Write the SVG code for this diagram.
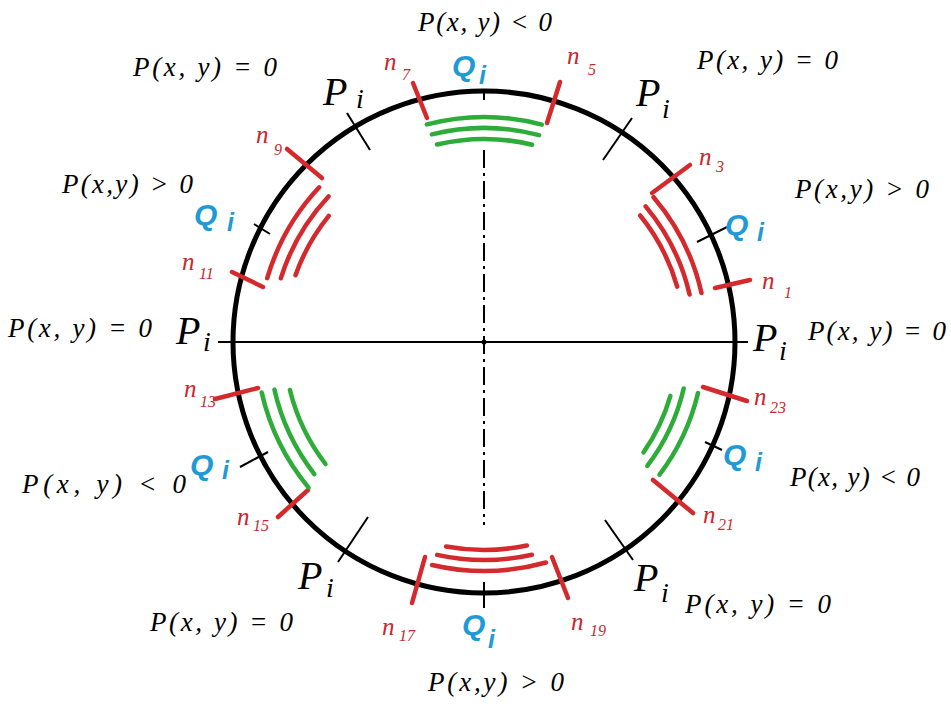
<svg xmlns="http://www.w3.org/2000/svg" width="951" height="704" viewBox="0 0 951 704">
<style>
.bk{stroke:#000;fill:none;stroke-linecap:round}
.rd{stroke:#d42a2e;fill:none;stroke-width:4.5;stroke-linecap:round}
.gr{stroke:#2eac3a;fill:none;stroke-width:4.5;stroke-linecap:round}
.tk{stroke:#000;stroke-width:2;fill:none}
.eq{font-family:"Liberation Serif",serif;font-style:italic;font-size:27px;fill:#000}
.pp{font-family:"Liberation Serif",serif;font-style:italic;font-size:40px;fill:#000}
.pi{font-family:"Liberation Serif",serif;font-style:italic;font-size:28px;fill:#000}
.qq{font-family:"Liberation Sans",sans-serif;font-style:italic;font-weight:bold;font-size:30px;fill:#1e9ad6}
.qi{font-family:"Liberation Sans",sans-serif;font-style:italic;font-weight:bold;font-size:25px;fill:#1e9ad6}
.nn{font-family:"Liberation Serif",serif;font-style:italic;font-size:25px;fill:#c8282e}
.ns{font-family:"Liberation Serif",serif;font-style:italic;font-size:16px;fill:#c8282e}
</style>
<rect width="951" height="704" fill="#fff"/>
<g id="circle">
<circle cx="484" cy="342" r="251" class="bk" stroke-width="5"/>
</g>
<g id="connectors">
<line x1="218" y1="342" x2="748" y2="342" class="tk"/>
<line x1="484" y1="150" x2="484" y2="525" class="tk" stroke-dasharray="18 5 3 5"/>
<circle cx="484" cy="342" r="2.5" fill="#000"/>
<line x1="347" y1="113" x2="370" y2="150" class="tk"/>
<line x1="632" y1="118" x2="603" y2="160" class="tk"/>
<line x1="368" y1="517" x2="338" y2="562" class="tk"/>
<line x1="605" y1="520" x2="633" y2="560" class="tk"/>
<line x1="697" y1="242" x2="727" y2="227" class="tk"/>
<line x1="254" y1="224" x2="270" y2="234" class="tk"/>
<line x1="705" y1="442" x2="722" y2="450" class="tk"/>
<line x1="240" y1="467" x2="268" y2="452" class="tk"/>
<line x1="484" y1="582" x2="484" y2="608" class="tk"/>
<line x1="484" y1="92" x2="484" y2="100" class="tk"/>
</g>
<g id="n-marks">
<line x1="413" y1="83" x2="427" y2="118" class="rd"/>
<line x1="560" y1="82" x2="547" y2="123" class="rd"/>
<line x1="690" y1="165" x2="652" y2="193" class="rd"/>
<line x1="715" y1="288" x2="750" y2="280" class="rd"/>
<line x1="703" y1="387" x2="747" y2="401" class="rd"/>
<line x1="653" y1="480" x2="693" y2="513" class="rd"/>
<line x1="552" y1="557" x2="568" y2="598" class="rd"/>
<line x1="425" y1="557" x2="412" y2="603" class="rd"/>
<line x1="308" y1="490" x2="278" y2="517" class="rd"/>
<line x1="215" y1="399" x2="258" y2="388" class="rd"/>
<line x1="232" y1="272" x2="263" y2="287" class="rd"/>
<line x1="287" y1="149" x2="322" y2="178" class="rd"/>
</g>
<g id="arcs-top">
<path d="M426.9,124.4 A225,225 0 0 1 541.8,124.6" class="gr"/>
<path d="M431.9,134.4 A214,214 0 0 1 539.0,135.2" class="gr"/>
<path d="M437.0,144.5 A203,203 0 0 1 532.1,144.8" class="gr"/>
</g>
<g id="arcs-right-upper">
<path d="M653.6,197.2 A223,223 0 0 1 701.5,293.0" class="rd"/>
<path d="M645.6,206.4 A211,211 0 0 1 689.6,294.5" class="rd"/>
<path d="M640.2,215.5 A201,201 0 0 1 677.2,286.6" class="rd"/>
</g>
<g id="arcs-left-upper">
<path d="M267.2,278.2 A226,226 0 0 1 319.2,187.3" class="rd"/>
<path d="M280.8,278.3 A213,213 0 0 1 328.5,196.5" class="rd"/>
<path d="M295.5,275.2 A200,200 0 0 1 328.8,215.9" class="rd"/>
</g>
<g id="arcs-left-lower">
<path d="M308.6,487.6 A228,228 0 0 1 261.7,392.5" class="gr"/>
<path d="M314.3,474.1 A215,215 0 0 1 274.4,389.6" class="gr"/>
<path d="M325.5,464.0 A200,200 0 0 1 289.9,390.0" class="gr"/>
</g>
<g id="arcs-right-lower">
<path d="M698.0,393.0 A220,220 0 0 1 659.5,474.7" class="gr"/>
<path d="M683.7,388.5 A205,205 0 0 1 647.3,465.9" class="gr"/>
<path d="M670.4,395.8 A194,194 0 0 1 643.5,452.4" class="gr"/>
</g>
<g id="arcs-bottom">
<path d="M546.0,562.5 A229,229 0 0 1 432.1,565.0" class="rd"/>
<path d="M531.9,554.7 A218,218 0 0 1 437.2,554.9" class="rd"/>
<path d="M526.9,545.5 A208,208 0 0 1 446.1,546.5" class="rd"/>
</g>
<g id="eq-labels">
<text x="418" y="31" class="eq" textLength="134" lengthAdjust="spacing">P(x, y) &lt; 0</text>
<text x="133" y="76" class="eq" textLength="144" lengthAdjust="spacing">P(x, y) = 0</text>
<text x="697" y="69" class="eq" textLength="141" lengthAdjust="spacing">P(x, y) = 0</text>
<text x="62" y="193" class="eq" textLength="131" lengthAdjust="spacing">P(x,y) &gt; 0</text>
<text x="795" y="198" class="eq" textLength="134" lengthAdjust="spacing">P(x,y) &gt; 0</text>
<text x="8" y="337" class="eq" textLength="144" lengthAdjust="spacing">P(x, y) = 0</text>
<text x="808" y="340" class="eq" textLength="138" lengthAdjust="spacing">P(x, y) = 0</text>
<text x="22" y="493" class="eq" textLength="164" lengthAdjust="spacing">P(x, y) &lt; 0</text>
<text x="790" y="486" class="eq" textLength="130" lengthAdjust="spacing">P(x, y) &lt; 0</text>
<text x="150" y="631" class="eq" textLength="143" lengthAdjust="spacing">P(x, y) = 0</text>
<text x="685" y="613" class="eq" textLength="146" lengthAdjust="spacing">P(x, y) = 0</text>
<text x="428" y="691" class="eq" textLength="136" lengthAdjust="spacing">P(x,y) &gt; 0</text>
</g>
<g id="p-labels">
<text x="323" y="105" class="pp">P</text><text x="356" y="108" class="pi">i</text>
<text x="636" y="106" class="pp">P</text><text x="662" y="118" class="pi">i</text>
<text x="176" y="344" class="pp">P</text><text x="203" y="351" class="pi">i</text>
<text x="753" y="351" class="pp">P</text><text x="779" y="360" class="pi">i</text>
<text x="298" y="589" class="pp">P</text><text x="326" y="597" class="pi">i</text>
<text x="634" y="591" class="pp">P</text><text x="661" y="602" class="pi">i</text>
</g>
<g id="q-labels">
<text x="452" y="76" class="qq">Q</text><text x="479" y="84" class="qi">i</text>
<text x="725" y="235" class="qq">Q</text><text x="757" y="241" class="qi">i</text>
<text x="194" y="225" class="qq">Q</text><text x="227" y="231" class="qi">i</text>
<text x="723" y="465" class="qq">Q</text><text x="755" y="471" class="qi">i</text>
<text x="190" y="475" class="qq">Q</text><text x="222" y="479" class="qi">i</text>
<text x="462" y="635" class="qq">Q</text><text x="488" y="648" class="qi">i</text>
</g>
<g id="n-labels">
<text x="384" y="70" class="nn">n</text><text x="402" y="80" class="ns">7</text>
<text x="567" y="64" class="nn">n</text><text x="588" y="75" class="ns">5</text>
<text x="699" y="165" class="nn">n</text><text x="716" y="172" class="ns">3</text>
<text x="762" y="289" class="nn">n</text><text x="784" y="298" class="ns">1</text>
<text x="754" y="405" class="nn">n</text><text x="770" y="413" class="ns">23</text>
<text x="703" y="523" class="nn">n</text><text x="718" y="530" class="ns">21</text>
<text x="571" y="630" class="nn">n</text><text x="590" y="636" class="ns">19</text>
<text x="382" y="635" class="nn">n</text><text x="399" y="641" class="ns">17</text>
<text x="237" y="525" class="nn">n</text><text x="253" y="531" class="ns">15</text>
<text x="184" y="397" class="nn">n</text><text x="200" y="407" class="ns">13</text>
<text x="182" y="270" class="nn">n</text><text x="199" y="279" class="ns">11</text>
<text x="256" y="143" class="nn">n</text><text x="274" y="155" class="ns">9</text>
</g>
</svg>
